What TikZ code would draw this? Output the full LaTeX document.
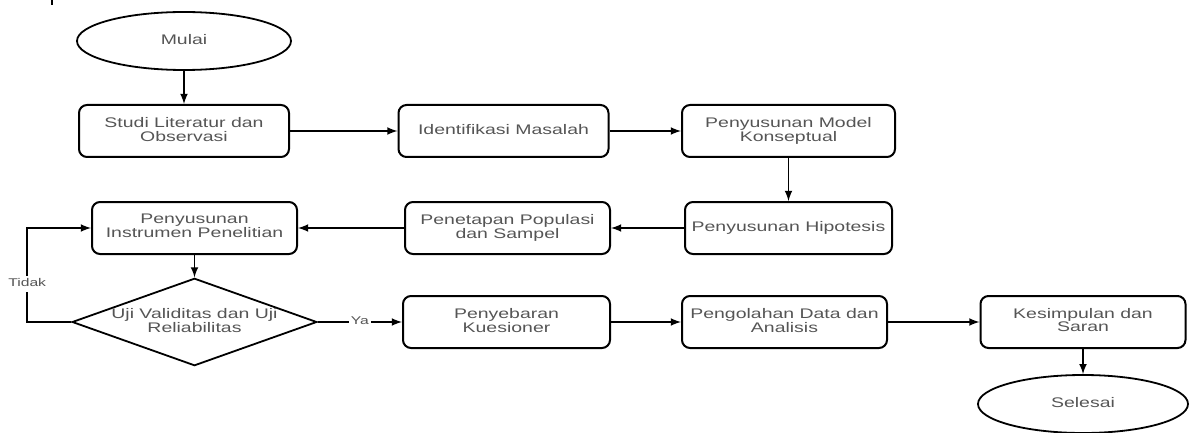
\documentclass[tikz,border=0pt]{standalone}
\usepackage{fontspec}
\setmainfont{Liberation Sans}
\usepackage{graphicx}
\usetikzlibrary{shapes.geometric}

\definecolor{txtgray}{RGB}{85,85,85}
\newcommand\wtext[1]{\scalebox{1.40}[1]{\begin{tabular}{@{}c@{}}#1\end{tabular}}}

\begin{document}
\begin{tikzpicture}[x=0.5pt,y=-0.5pt,
    box/.style={draw, rounded corners=4pt, line width=1pt, minimum width=105pt, minimum height=26pt, inner sep=0pt, text=txtgray, font=\fontsize{6.95}{6.6}\selectfont},
    terminal/.style={draw, ellipse, line width=0.9pt, minimum width=107pt, minimum height=29pt, inner sep=0pt, text=txtgray, font=\fontsize{6.95}{6.6}\selectfont},
    decision/.style={draw, diamond, aspect=2.8, line width=0.9pt, minimum width=121.5pt, minimum height=43pt, inner sep=0pt, text=txtgray, font=\fontsize{6.95}{6.6}\selectfont},
    line/.style={draw, -latex, line width=0.75pt},
    lbl/.style={fill=white, inner sep=1pt, text=txtgray, font=\fontsize{5.6}{6}\selectfont}]
        \useasboundingbox (0,0) rectangle (1189,433);

        % first row
        \node[terminal] (mulai) at (184,41) {\wtext{Mulai}};
        \node[box] (studi) at (184,131) {\wtext{Studi Literatur dan\\Observasi}};
        \node[box] (ident) at (503.5,131) {\wtext{Identifikasi Masalah}};
        \node[box,minimum width=106.5pt] (model) at (788.5,131) {\wtext{Penyusunan Model\\Konseptual}};

        % second row
        \node[box,minimum width=103.5pt] (hipo) at (788.5,228) {\wtext{Penyusunan Hipotesis}};
        \node[box,minimum width=102.5pt] (popul) at (507.5,228) {\wtext{Penetapan Populasi\\dan Sampel}};
        \node[box,minimum width=102.5pt] (instr) at (194.5,228) {\wtext{Penyusunan\\Instrumen Penelitian}};

        % third row
        \node[decision] (uji) at (194.5,322) {\wtext{Uji Validitas dan Uji\\Reliabilitas}};
        \node[box,minimum width=103.5pt] (sebar) at (506.5,322) {\wtext{Penyebaran\\Kuesioner}};
        \node[box,minimum width=102.5pt] (olah) at (784.5,322) {\wtext{Pengolahan Data dan\\Analisis}};
        \node[box,minimum width=102.5pt] (simpul) at (1083,322) {\wtext{Kesimpulan dan\\Saran}};
        \node[terminal,minimum width=105pt] (selesai) at (1083,404) {\wtext{Selesai}};

        \draw[line] (mulai) -- (studi);
        \draw[line] (studi) -- (ident);
        \draw[line] (ident) -- (model);
        \draw[line] (model) -- (hipo);
        \draw[line] (hipo) -- (popul);
        \draw[line] (popul) -- (instr);
        \draw[line] (instr) -- (uji);
        \draw[line] (uji) -- node[lbl]{\wtext{Ya}} (sebar);
        \draw[line] (uji.west) -- ++(-44,0) |- node[lbl,pos=0.2]{\wtext{Tidak}} (instr.west);
        \draw[line] (sebar) -- (olah);
        \draw[line] (olah) -- (simpul);
        \draw[line] (simpul) -- (selesai);

        \draw[line width=0.8pt] (52,0) -- (52,5);
      \end{tikzpicture}
\end{document}
